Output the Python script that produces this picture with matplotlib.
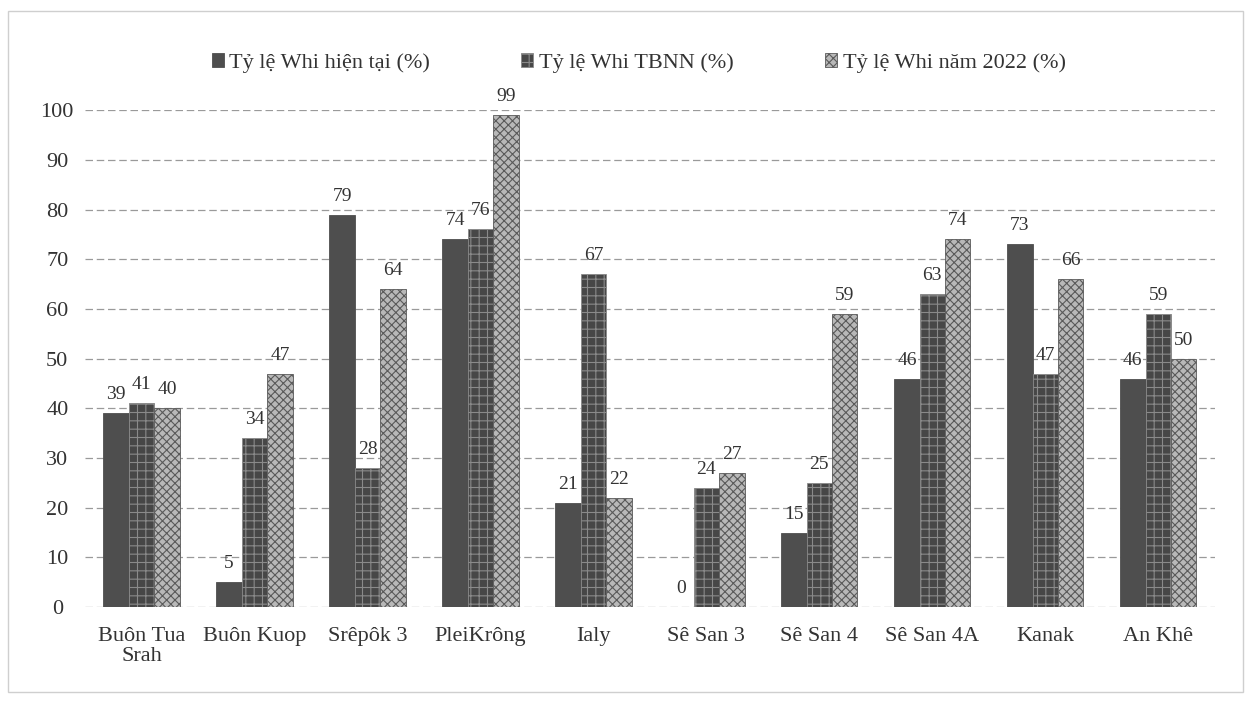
import matplotlib
matplotlib.use("Agg")
import matplotlib.pyplot as plt
import numpy as np
from matplotlib.patches import Rectangle

plt.rcParams['font.family'] = ['Liberation Serif', 'DejaVu Serif']
plt.rcParams['hatch.linewidth'] = 0.8

categories = ["Buôn Tua\nSrah", "Buôn Kuop", "Srêpôk 3", "PleiKrông", "Ialy",
              "Sê San 3", "Sê San 4", "Sê San 4A", "Kanak", "An Khê"]
series_names = ["Tỷ lệ Whi hiện tại (%)", "Tỷ lệ Whi TBNN (%)", "Tỷ lệ Whi năm 2022 (%)"]
whi_now = [39, 5, 79, 74, 21, 0, 15, 46, 73, 46]
whi_tbnn = [41, 34, 28, 76, 67, 24, 25, 63, 47, 59]
whi_2022 = [40, 47, 64, 99, 22, 27, 59, 74, 66, 50]
yticks = [0, 10, 20, 30, 40, 50, 60, 70, 80, 90, 100]

fig = plt.figure(figsize=(12.51, 7.06), dpi=100)
# outer border
fig.patches.append(Rectangle((0.006, 0.02), 0.988, 0.965, transform=fig.transFigure,
                             fill=False, edgecolor='#cfcfcf', linewidth=1.0))
ax = fig.add_axes([0.068, 0.140, 0.903, 0.704])

x = np.arange(len(categories))
w = 0.225
styles = [
    dict(facecolor='#4e4e4e', edgecolor='#4e4e4e', hatch=None),
    dict(facecolor='#474747', edgecolor='#8a8a8a', hatch='++'),
    dict(facecolor='#b8b8b8', edgecolor='#5a5a5a', hatch='xxxx'),
]
data = [whi_now, whi_tbnn, whi_2022]
for i, (vals, st, name) in enumerate(zip(data, styles, series_names)):
    bars = ax.bar(x + (i - 1) * w, vals, width=w, label=name, linewidth=0.6, zorder=3, **st)
    for b, v in zip(bars, vals):
        ax.text(b.get_x() + b.get_width() / 2, v + 2.0, str(v), ha='center', va='bottom',
                fontsize=14, color='#333333', clip_on=False)

ax.set_xlim(-0.5, len(categories) - 0.5)
ax.set_ylim(0, 100)
ax.set_yticks(yticks)
ax.set_yticklabels([str(t) for t in yticks], fontsize=16, color='#333333')
ax.set_xticks(x)
ax.set_xticklabels(categories, fontsize=16, color='#333333', linespacing=1.1)
ax.tick_params(axis='x', length=0, pad=14)
ax.tick_params(axis='y', length=0, pad=20)
for lbl in ax.get_yticklabels():
    lbl.set_horizontalalignment('center')
for s in ax.spines.values():
    s.set_visible(False)
ax.grid(axis='y', color='#9a9a9a', linestyle=(0, (6, 3)), linewidth=0.9, zorder=0)

leg = ax.legend(loc='lower center', bbox_to_anchor=(0.49, 1.035), ncol=3, frameon=False,
                fontsize=16, handlelength=0.55, handleheight=0.55, handletextpad=0.25,
                columnspacing=4.1)
for t in leg.get_texts():
    t.set_color('#333333')

fig.savefig("out.png", dpi=100)
